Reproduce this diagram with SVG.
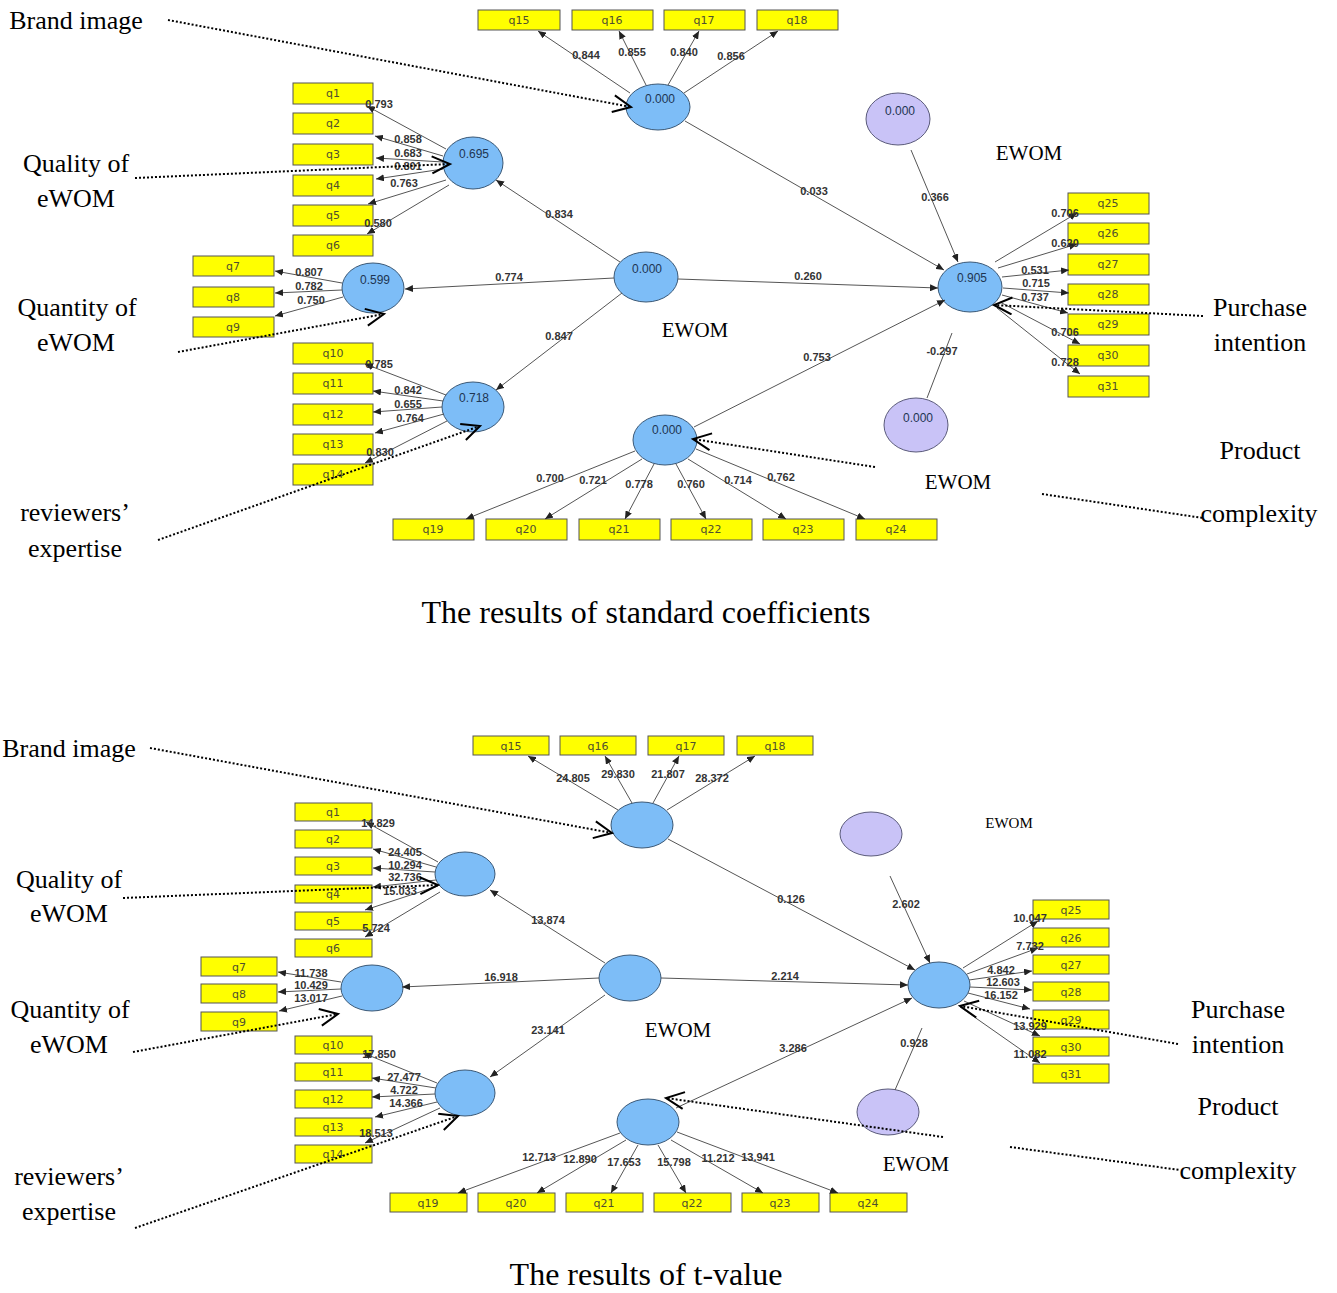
<svg xmlns="http://www.w3.org/2000/svg" width="1337" height="1293" viewBox="0 0 1337 1293">
<defs>
<marker id="ah" markerUnits="userSpaceOnUse" markerWidth="9" markerHeight="7" refX="8" refY="3.5" orient="auto"><path d="M0,0 L8,3.5 L0,7 z" fill="#222"/></marker>
<marker id="ch" markerUnits="userSpaceOnUse" markerWidth="22" markerHeight="20" refX="19" refY="9.5" orient="auto"><path d="M1,1 L19,9.5 L1,18" fill="none" stroke="#000" stroke-width="2"/></marker>
</defs>
<style>
.box{fill:#ffff00;stroke:#555;stroke-width:1}
.bl{font-family:"DejaVu Sans",sans-serif;font-size:11px;fill:#4f4f2f;text-anchor:middle}
.lv{font-family:"Liberation Sans",Arial,sans-serif;font-size:11px;font-weight:bold;fill:#333;text-anchor:middle}
.cv{font-family:"Liberation Sans",Arial,sans-serif;font-size:12px;fill:#1e3552;text-anchor:middle}
.lat{fill:#7dbdf7;stroke:#3a5876;stroke-width:1}
.mod{fill:#c9c3f7;stroke:#5a5a7a;stroke-width:1}
.ed{stroke:#555;stroke-width:1;fill:none;marker-end:url(#ah)}
.ln{stroke:#555;stroke-width:1;fill:none}
.dot{stroke:#000;stroke-width:2;stroke-dasharray:2 2;fill:none}
.dch{marker-end:url(#ch)}
.tt{font-family:"Liberation Serif","Times New Roman",serif;font-size:26px;fill:#000;text-anchor:middle}
.ew{font-family:"Liberation Serif","Times New Roman",serif;font-size:21px;fill:#000;text-anchor:middle}
.cap{font-family:"Liberation Serif","Times New Roman",serif;font-size:32px;fill:#000;text-anchor:middle}
</style>
<rect width="1337" height="1293" fill="#fff"/>

<!-- ================= TOP DIAGRAM ================= -->
<g id="t-q15"><rect class="box" x="478" y="10" width="82" height="20"/><text class="bl" x="519" y="24">q15</text></g>
<g id="t-q16"><rect class="box" x="572" y="10" width="81" height="20"/><text class="bl" x="612" y="24">q16</text></g>
<g id="t-q17"><rect class="box" x="664" y="10" width="81" height="20"/><text class="bl" x="704" y="24">q17</text></g>
<g id="t-q18"><rect class="box" x="757" y="10" width="81" height="20"/><text class="bl" x="797" y="24">q18</text></g>
<g id="t-q1"><rect class="box" x="293" y="83" width="80" height="21"/><text class="bl" x="333" y="97">q1</text></g>
<g id="t-q2"><rect class="box" x="293" y="113" width="80" height="21"/><text class="bl" x="333" y="127">q2</text></g>
<g id="t-q3"><rect class="box" x="293" y="144" width="80" height="21"/><text class="bl" x="333" y="158">q3</text></g>
<g id="t-q4"><rect class="box" x="293" y="175" width="80" height="21"/><text class="bl" x="333" y="189">q4</text></g>
<g id="t-q5"><rect class="box" x="293" y="205" width="80" height="21"/><text class="bl" x="333" y="219">q5</text></g>
<g id="t-q6"><rect class="box" x="293" y="235" width="80" height="21"/><text class="bl" x="333" y="249">q6</text></g>
<g id="t-q7"><rect class="box" x="193" y="256" width="81" height="20"/><text class="bl" x="233" y="270">q7</text></g>
<g id="t-q8"><rect class="box" x="193" y="287" width="81" height="20"/><text class="bl" x="233" y="301">q8</text></g>
<g id="t-q9"><rect class="box" x="193" y="317" width="81" height="20"/><text class="bl" x="233" y="331">q9</text></g>
<g id="t-q10"><rect class="box" x="293" y="343" width="80" height="21"/><text class="bl" x="333" y="357">q10</text></g>
<g id="t-q11"><rect class="box" x="293" y="373" width="80" height="21"/><text class="bl" x="333" y="387">q11</text></g>
<g id="t-q12"><rect class="box" x="293" y="404" width="80" height="21"/><text class="bl" x="333" y="418">q12</text></g>
<g id="t-q13"><rect class="box" x="293" y="434" width="80" height="21"/><text class="bl" x="333" y="448">q13</text></g>
<g id="t-q14"><rect class="box" x="293" y="464" width="80" height="21"/><text class="bl" x="333" y="478">q14</text></g>
<g id="t-q19"><rect class="box" x="393" y="519" width="81" height="21"/><text class="bl" x="433" y="533">q19</text></g>
<g id="t-q20"><rect class="box" x="486" y="519" width="81" height="21"/><text class="bl" x="526" y="533">q20</text></g>
<g id="t-q21"><rect class="box" x="579" y="519" width="81" height="21"/><text class="bl" x="619" y="533">q21</text></g>
<g id="t-q22"><rect class="box" x="671" y="519" width="81" height="21"/><text class="bl" x="711" y="533">q22</text></g>
<g id="t-q23"><rect class="box" x="763" y="519" width="81" height="21"/><text class="bl" x="803" y="533">q23</text></g>
<g id="t-q24"><rect class="box" x="856" y="519" width="81" height="21"/><text class="bl" x="896" y="533">q24</text></g>
<g id="t-q25"><rect class="box" x="1068" y="193" width="81" height="21"/><text class="bl" x="1108" y="207">q25</text></g>
<g id="t-q26"><rect class="box" x="1068" y="223" width="81" height="21"/><text class="bl" x="1108" y="237">q26</text></g>
<g id="t-q27"><rect class="box" x="1068" y="254" width="81" height="21"/><text class="bl" x="1108" y="268">q27</text></g>
<g id="t-q28"><rect class="box" x="1068" y="284" width="81" height="21"/><text class="bl" x="1108" y="298">q28</text></g>
<g id="t-q29"><rect class="box" x="1068" y="314" width="81" height="21"/><text class="bl" x="1108" y="328">q29</text></g>
<g id="t-q30"><rect class="box" x="1068" y="345" width="81" height="21"/><text class="bl" x="1108" y="359">q30</text></g>
<g id="t-q31"><rect class="box" x="1068" y="376" width="81" height="21"/><text class="bl" x="1108" y="390">q31</text></g>

<g id="t-brand"><ellipse class="lat" cx="658" cy="107" rx="32" ry="23"/><text class="cv" x="660" y="103">0.000</text></g>
<g id="t-quality"><ellipse class="lat" cx="473" cy="163" rx="30" ry="26"/><text class="cv" x="474" y="158">0.695</text></g>
<g id="t-quantity"><ellipse class="lat" cx="373" cy="288" rx="31" ry="25"/><text class="cv" x="375" y="284">0.599</text></g>
<g id="t-reviewers"><ellipse class="lat" cx="473" cy="407" rx="31" ry="25"/><text class="cv" x="474" y="402">0.718</text></g>
<g id="t-ewom"><ellipse class="lat" cx="646" cy="277" rx="32" ry="25"/><text class="cv" x="647" y="273">0.000</text></g>
<g id="t-ewom2"><ellipse class="lat" cx="665" cy="440" rx="32" ry="25"/><text class="cv" x="667" y="434">0.000</text></g>
<g id="t-purchase"><ellipse class="lat" cx="970" cy="287" rx="32" ry="25"/><text class="cv" x="972" y="282">0.905</text></g>
<g id="t-mod1"><ellipse class="mod" cx="898" cy="119" rx="32" ry="26"/><text class="cv" x="900" y="115">0.000</text></g>
<g id="t-mod2"><ellipse class="mod" cx="916" cy="425" rx="32" ry="27"/><text class="cv" x="918" y="422">0.000</text></g>

<g id="top-connectors">
<line class="ed" x1="630" y1="93" x2="538" y2="31"/>
<line class="ed" x1="646" y1="85" x2="619" y2="31"/>
<line class="ed" x1="668" y1="85" x2="699" y2="31"/>
<line class="ed" x1="684" y1="93" x2="778" y2="31"/>
<line class="ed" x1="446" y1="149" x2="367" y2="106"/>
<line class="ed" x1="443" y1="156" x2="375" y2="136"/>
<line class="ed" x1="443" y1="162" x2="376" y2="158"/>
<line class="ed" x1="443" y1="169" x2="376" y2="179"/>
<line class="ed" x1="446" y1="180" x2="368" y2="204"/>
<line class="ed" x1="449" y1="185" x2="367" y2="234"/>
<line class="ed" x1="342" y1="283" x2="275" y2="271"/>
<line class="ed" x1="342" y1="290" x2="275" y2="293"/>
<line class="ed" x1="343" y1="297" x2="275" y2="316"/>
<line class="ed" x1="446" y1="395" x2="365" y2="364"/>
<line class="ed" x1="443" y1="401" x2="373" y2="391"/>
<line class="ed" x1="442" y1="407" x2="373" y2="412"/>
<line class="ed" x1="444" y1="414" x2="375" y2="433"/>
<line class="ed" x1="447" y1="421" x2="365" y2="463"/>
<line class="ed" x1="620" y1="262" x2="496" y2="180"/>
<line class="ed" x1="614" y1="278" x2="405" y2="289"/>
<line class="ed" x1="622" y1="293" x2="496" y2="390"/>
<line class="ed" x1="678" y1="279" x2="938" y2="288"/>
<line class="ed" x1="685" y1="121" x2="944" y2="270"/>
<line class="ed" x1="911" y1="150" x2="958" y2="262"/>
<line class="ln" x1="927" y1="398" x2="952" y2="333"/>
<line class="ed" x1="694" y1="427" x2="945" y2="300"/>
<line class="ed" x1="635" y1="451" x2="466" y2="519"/>
<line class="ed" x1="642" y1="459" x2="545" y2="519"/>
<line class="ed" x1="654" y1="464" x2="625" y2="519"/>
<line class="ed" x1="676" y1="464" x2="706" y2="519"/>
<line class="ed" x1="688" y1="459" x2="786" y2="519"/>
<line class="ed" x1="696" y1="449" x2="865" y2="519"/>
<line class="ed" x1="995" y1="262" x2="1077" y2="213"/>
<line class="ed" x1="998" y1="268" x2="1077" y2="244"/>
<line class="ed" x1="1002" y1="277" x2="1069" y2="270"/>
<line class="ed" x1="1003" y1="288" x2="1069" y2="293"/>
<line class="ed" x1="1002" y1="295" x2="1068" y2="313"/>
<line class="ed" x1="1000" y1="302" x2="1080" y2="344"/>
<line class="ed" x1="997" y1="308" x2="1080" y2="374"/>
</g>

<g id="top-labels">
<text class="lv" x="586" y="59">0.844</text>
<text class="lv" x="632" y="56">0.855</text>
<text class="lv" x="684" y="56">0.840</text>
<text class="lv" x="731" y="60">0.856</text>
<text class="lv" x="379" y="108">0.793</text>
<text class="lv" x="408" y="143">0.858</text>
<text class="lv" x="408" y="157">0.683</text>
<text class="lv" x="408" y="170">0.801</text>
<text class="lv" x="404" y="187">0.763</text>
<text class="lv" x="378" y="227">0.580</text>
<text class="lv" x="309" y="276">0.807</text>
<text class="lv" x="309" y="290">0.782</text>
<text class="lv" x="311" y="304">0.750</text>
<text class="lv" x="379" y="368">0.785</text>
<text class="lv" x="408" y="394">0.842</text>
<text class="lv" x="408" y="408">0.655</text>
<text class="lv" x="410" y="422">0.764</text>
<text class="lv" x="380" y="456">0.830</text>
<text class="lv" x="559" y="218">0.834</text>
<text class="lv" x="509" y="281">0.774</text>
<text class="lv" x="559" y="340">0.847</text>
<text class="lv" x="808" y="280">0.260</text>
<text class="lv" x="814" y="195">0.033</text>
<text class="lv" x="935" y="201">0.366</text>
<text class="lv" x="942" y="355">-0.297</text>
<text class="lv" x="817" y="361">0.753</text>
<text class="lv" x="550" y="482">0.700</text>
<text class="lv" x="593" y="484">0.721</text>
<text class="lv" x="639" y="488">0.778</text>
<text class="lv" x="691" y="488">0.760</text>
<text class="lv" x="738" y="484">0.714</text>
<text class="lv" x="781" y="481">0.762</text>
<text class="lv" x="1065" y="217">0.706</text>
<text class="lv" x="1065" y="247">0.620</text>
<text class="lv" x="1035" y="274">0.531</text>
<text class="lv" x="1036" y="287">0.715</text>
<text class="lv" x="1035" y="301">0.737</text>
<text class="lv" x="1065" y="336">0.706</text>
<text class="lv" x="1065" y="366">0.728</text>
</g>

<g id="top-callouts">
<line class="dot dch" x1="168" y1="20" x2="631" y2="107"/>
<line class="dot dch" x1="135" y1="178" x2="450" y2="164"/>
<line class="dot dch" x1="178" y1="352" x2="384" y2="314"/>
<line class="dot dch" x1="158" y1="540" x2="480" y2="426"/>
<line class="dot dch" x1="1203" y1="316" x2="994" y2="305"/>
<line class="dot" x1="1042" y1="494" x2="1203" y2="518"/>
<line class="dot dch" x1="875" y1="467" x2="693" y2="439"/>
<text class="tt" x="76" y="29">Brand image</text>
<text class="tt" x="76" y="172">Quality of</text>
<text class="tt" x="76" y="207">eWOM</text>
<text class="tt" x="77" y="316">Quantity of</text>
<text class="tt" x="76" y="351">eWOM</text>
<text class="tt" x="75" y="521">reviewers’</text>
<text class="tt" x="75" y="557">expertise</text>
<text class="tt" x="1260" y="316">Purchase</text>
<text class="tt" x="1260" y="351">intention</text>
<text class="tt" x="1260" y="459">Product</text>
<text class="tt" x="1259" y="522">complexity</text>
<text class="ew" x="1029" y="160">EWOM</text>
<text class="ew" x="695" y="337">EWOM</text>
<text class="ew" x="958" y="489">EWOM</text>
<text class="cap" x="646" y="623">The results of standard coefficients</text>
</g>

<!-- ================= BOTTOM DIAGRAM ================= -->
<g id="b-q15"><rect class="box" x="473" y="736" width="76" height="19"/><text class="bl" x="511" y="750">q15</text></g>
<g id="b-q16"><rect class="box" x="560" y="736" width="76" height="19"/><text class="bl" x="598" y="750">q16</text></g>
<g id="b-q17"><rect class="box" x="648" y="736" width="76" height="19"/><text class="bl" x="686" y="750">q17</text></g>
<g id="b-q18"><rect class="box" x="737" y="736" width="76" height="19"/><text class="bl" x="775" y="750">q18</text></g>
<g id="b-q1"><rect class="box" x="295" y="803" width="77" height="18"/><text class="bl" x="333" y="816">q1</text></g>
<g id="b-q2"><rect class="box" x="295" y="830" width="77" height="18"/><text class="bl" x="333" y="843">q2</text></g>
<g id="b-q3"><rect class="box" x="295" y="857" width="77" height="18"/><text class="bl" x="333" y="870">q3</text></g>
<g id="b-q4"><rect class="box" x="295" y="885" width="77" height="18"/><text class="bl" x="333" y="898">q4</text></g>
<g id="b-q5"><rect class="box" x="295" y="912" width="77" height="18"/><text class="bl" x="333" y="925">q5</text></g>
<g id="b-q6"><rect class="box" x="295" y="939" width="77" height="18"/><text class="bl" x="333" y="952">q6</text></g>
<g id="b-q7"><rect class="box" x="201" y="957" width="76" height="19"/><text class="bl" x="239" y="971">q7</text></g>
<g id="b-q8"><rect class="box" x="201" y="984" width="76" height="19"/><text class="bl" x="239" y="998">q8</text></g>
<g id="b-q9"><rect class="box" x="201" y="1012" width="76" height="19"/><text class="bl" x="239" y="1026">q9</text></g>
<g id="b-q10"><rect class="box" x="295" y="1036" width="77" height="18"/><text class="bl" x="333" y="1049">q10</text></g>
<g id="b-q11"><rect class="box" x="295" y="1063" width="77" height="18"/><text class="bl" x="333" y="1076">q11</text></g>
<g id="b-q12"><rect class="box" x="295" y="1090" width="77" height="18"/><text class="bl" x="333" y="1103">q12</text></g>
<g id="b-q13"><rect class="box" x="295" y="1118" width="77" height="18"/><text class="bl" x="333" y="1131">q13</text></g>
<g id="b-q14"><rect class="box" x="295" y="1145" width="77" height="18"/><text class="bl" x="333" y="1158">q14</text></g>
<g id="b-q19"><rect class="box" x="390" y="1193" width="77" height="19"/><text class="bl" x="428" y="1207">q19</text></g>
<g id="b-q20"><rect class="box" x="478" y="1193" width="77" height="19"/><text class="bl" x="516" y="1207">q20</text></g>
<g id="b-q21"><rect class="box" x="566" y="1193" width="77" height="19"/><text class="bl" x="604" y="1207">q21</text></g>
<g id="b-q22"><rect class="box" x="654" y="1193" width="77" height="19"/><text class="bl" x="692" y="1207">q22</text></g>
<g id="b-q23"><rect class="box" x="742" y="1193" width="77" height="19"/><text class="bl" x="780" y="1207">q23</text></g>
<g id="b-q24"><rect class="box" x="830" y="1193" width="77" height="19"/><text class="bl" x="868" y="1207">q24</text></g>
<g id="b-q25"><rect class="box" x="1033" y="900" width="76" height="19"/><text class="bl" x="1071" y="914">q25</text></g>
<g id="b-q26"><rect class="box" x="1033" y="928" width="76" height="19"/><text class="bl" x="1071" y="942">q26</text></g>
<g id="b-q27"><rect class="box" x="1033" y="955" width="76" height="19"/><text class="bl" x="1071" y="969">q27</text></g>
<g id="b-q28"><rect class="box" x="1033" y="982" width="76" height="19"/><text class="bl" x="1071" y="996">q28</text></g>
<g id="b-q29"><rect class="box" x="1033" y="1010" width="76" height="19"/><text class="bl" x="1071" y="1024">q29</text></g>
<g id="b-q30"><rect class="box" x="1033" y="1037" width="76" height="19"/><text class="bl" x="1071" y="1051">q30</text></g>
<g id="b-q31"><rect class="box" x="1033" y="1064" width="76" height="19"/><text class="bl" x="1071" y="1078">q31</text></g>

<g id="b-brand"><ellipse class="lat" cx="642" cy="825" rx="31" ry="23"/></g>
<g id="b-quality"><ellipse class="lat" cx="465" cy="874" rx="30" ry="22"/></g>
<g id="b-quantity"><ellipse class="lat" cx="372" cy="988" rx="31" ry="23"/></g>
<g id="b-reviewers"><ellipse class="lat" cx="465" cy="1093" rx="30" ry="23"/></g>
<g id="b-ewom"><ellipse class="lat" cx="630" cy="978" rx="31" ry="23"/></g>
<g id="b-ewom2"><ellipse class="lat" cx="648" cy="1122" rx="31" ry="23"/></g>
<g id="b-purchase"><ellipse class="lat" cx="939" cy="985" rx="31" ry="23"/></g>
<g id="b-mod1"><ellipse class="mod" cx="871" cy="834" rx="31" ry="22"/></g>
<g id="b-mod2"><ellipse class="mod" cx="888" cy="1112" rx="31" ry="23"/></g>

<g id="bottom-connectors">
<line class="ed" x1="618" y1="810" x2="528" y2="756"/>
<line class="ed" x1="632" y1="803" x2="605" y2="756"/>
<line class="ed" x1="653" y1="803" x2="679" y2="756"/>
<line class="ed" x1="667" y1="810" x2="755" y2="756"/>
<line class="ed" x1="438" y1="862" x2="366" y2="822"/>
<line class="ed" x1="436" y1="867" x2="373" y2="849"/>
<line class="ed" x1="435" y1="872" x2="373" y2="868"/>
<line class="ed" x1="436" y1="880" x2="373" y2="887"/>
<line class="ed" x1="438" y1="886" x2="365" y2="910"/>
<line class="ed" x1="440" y1="892" x2="365" y2="937"/>
<line class="ed" x1="341" y1="982" x2="278" y2="972"/>
<line class="ed" x1="341" y1="989" x2="278" y2="992"/>
<line class="ed" x1="342" y1="996" x2="279" y2="1011"/>
<line class="ed" x1="437" y1="1083" x2="363" y2="1053"/>
<line class="ed" x1="436" y1="1088" x2="372" y2="1078"/>
<line class="ed" x1="435" y1="1094" x2="372" y2="1097"/>
<line class="ed" x1="437" y1="1102" x2="375" y2="1117"/>
<line class="ed" x1="440" y1="1108" x2="365" y2="1143"/>
<line class="ed" x1="605" y1="963" x2="490" y2="890"/>
<line class="ed" x1="599" y1="978" x2="402" y2="987"/>
<line class="ed" x1="605" y1="995" x2="490" y2="1077"/>
<line class="ed" x1="661" y1="978" x2="908" y2="985"/>
<line class="ed" x1="668" y1="839" x2="915" y2="970"/>
<line class="ed" x1="890" y1="876" x2="930" y2="963"/>
<line class="ln" x1="895" y1="1090" x2="922" y2="1028"/>
<line class="ed" x1="676" y1="1108" x2="912" y2="998"/>
<line class="ed" x1="620" y1="1133" x2="458" y2="1193"/>
<line class="ed" x1="626" y1="1140" x2="537" y2="1193"/>
<line class="ed" x1="638" y1="1145" x2="611" y2="1193"/>
<line class="ed" x1="658" y1="1145" x2="686" y2="1193"/>
<line class="ed" x1="671" y1="1140" x2="763" y2="1193"/>
<line class="ed" x1="677" y1="1132" x2="838" y2="1193"/>
<line class="ed" x1="963" y1="968" x2="1038" y2="921"/>
<line class="ed" x1="967" y1="974" x2="1038" y2="948"/>
<line class="ed" x1="969" y1="980" x2="1032" y2="971"/>
<line class="ed" x1="970" y1="987" x2="1032" y2="990"/>
<line class="ed" x1="968" y1="993" x2="1030" y2="1009"/>
<line class="ed" x1="964" y1="1001" x2="1040" y2="1036"/>
<line class="ed" x1="960" y1="1007" x2="1040" y2="1063"/>
</g>

<g id="bottom-labels">
<text class="lv" x="573" y="782">24.805</text>
<text class="lv" x="618" y="778">29.830</text>
<text class="lv" x="668" y="778">21.807</text>
<text class="lv" x="712" y="782">28.372</text>
<text class="lv" x="378" y="827">14.829</text>
<text class="lv" x="405" y="856">24.405</text>
<text class="lv" x="405" y="869">10.294</text>
<text class="lv" x="405" y="881">32.736</text>
<text class="lv" x="400" y="895">15.033</text>
<text class="lv" x="376" y="932">5.724</text>
<text class="lv" x="311" y="977">11.738</text>
<text class="lv" x="311" y="989">10.429</text>
<text class="lv" x="311" y="1002">13.017</text>
<text class="lv" x="379" y="1058">17.850</text>
<text class="lv" x="404" y="1081">27.477</text>
<text class="lv" x="404" y="1094">4.722</text>
<text class="lv" x="406" y="1107">14.366</text>
<text class="lv" x="376" y="1137">18.513</text>
<text class="lv" x="548" y="924">13.874</text>
<text class="lv" x="501" y="981">16.918</text>
<text class="lv" x="548" y="1034">23.141</text>
<text class="lv" x="785" y="980">2.214</text>
<text class="lv" x="791" y="903">0.126</text>
<text class="lv" x="906" y="908">2.602</text>
<text class="lv" x="914" y="1047">0.928</text>
<text class="lv" x="793" y="1052">3.286</text>
<text class="lv" x="539" y="1161">12.713</text>
<text class="lv" x="580" y="1163">12.890</text>
<text class="lv" x="624" y="1166">17.653</text>
<text class="lv" x="674" y="1166">15.798</text>
<text class="lv" x="718" y="1162">11.212</text>
<text class="lv" x="758" y="1161">13.941</text>
<text class="lv" x="1030" y="922">10.047</text>
<text class="lv" x="1030" y="950">7.732</text>
<text class="lv" x="1001" y="974">4.842</text>
<text class="lv" x="1003" y="986">12.603</text>
<text class="lv" x="1001" y="999">16.152</text>
<text class="lv" x="1030" y="1030">13.929</text>
<text class="lv" x="1030" y="1058">11.082</text>
</g>

<g id="bottom-callouts">
<line class="dot dch" x1="150" y1="748" x2="612" y2="833"/>
<line class="dot dch" x1="123" y1="898" x2="438" y2="885"/>
<line class="dot dch" x1="133" y1="1052" x2="338" y2="1014"/>
<line class="dot dch" x1="135" y1="1228" x2="458" y2="1116"/>
<line class="dot dch" x1="1178" y1="1044" x2="960" y2="1006"/>
<line class="dot" x1="1010" y1="1147" x2="1180" y2="1170"/>
<line class="dot dch" x1="943" y1="1137" x2="666" y2="1098"/>
<text class="tt" x="69" y="757">Brand image</text>
<text class="tt" x="69" y="888">Quality of</text>
<text class="tt" x="69" y="922">eWOM</text>
<text class="tt" x="70" y="1018">Quantity of</text>
<text class="tt" x="69" y="1053">eWOM</text>
<text class="tt" x="69" y="1185">reviewers’</text>
<text class="tt" x="69" y="1220">expertise</text>
<text class="tt" x="1238" y="1018">Purchase</text>
<text class="tt" x="1238" y="1053">intention</text>
<text class="tt" x="1238" y="1115">Product</text>
<text class="tt" x="1238" y="1179">complexity</text>
<text class="ew" x="1009" y="828" style="font-size:15px">EWOM</text>
<text class="ew" x="678" y="1037">EWOM</text>
<text class="ew" x="916" y="1171">EWOM</text>
<text class="cap" x="646" y="1285">The results of t-value</text>
</g>
</svg>
